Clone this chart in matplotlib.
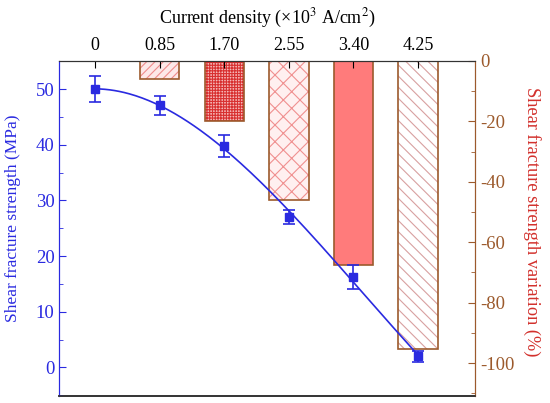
import matplotlib

matplotlib.use("Agg")

import matplotlib.pyplot as plt
import numpy as np
from matplotlib.ticker import MultipleLocator

plt.rcParams["font.family"] = ["Liberation Serif", "DejaVu Serif"]
plt.rcParams["mathtext.fontset"] = "stix"
plt.rcParams["axes.unicode_minus"] = False
plt.rcParams["hatch.linewidth"] = 0.8

# data
density = [0.0, 0.85, 1.70, 2.55, 3.40, 4.25]
density_labels = ["0", "0.85", "1.70", "2.55", "3.40", "4.25"]
strength = [50.0, 47.1, 39.8, 27.0, 16.2, 2.0]
strength_err = [2.3, 1.7, 2.0, 1.3, 2.2, 1.0]
variation = [-5.9, -20.0, -46.1, -67.4, -95.4]

BLUE = "#2a2ae0"
BROWN = "#9c5a2c"
RED = "#d2302c"

# per-bar look: (fill, hatch, hatch colour)
bar_styles = [
    ("#fde8e8", "////", "#f08c8c"),
    ("#f5b8b8", "++++++", "#d83030"),
    ("#fff0f0", "xx", "#f09090"),
    ("#ff7b7b", "", "#ff7b7b"),
    ("#ffffff", "\\\\\\", "#d8a0a0"),
]

fig = plt.figure(figsize=(5.5, 4.03), dpi=100)
ax = fig.add_axes([0.108, 0.018, 0.7556, 0.831])
ax2 = ax.twinx()

# bars for the variation (right axis); hatch drawn first, outline on top
bar_x = density[1:]
for xv, val, (fc, hatch, hc) in zip(bar_x, variation, bar_styles):
    ax2.bar(xv, val, width=0.52, color=fc, hatch=hatch, edgecolor=hc, linewidth=0)
    ax2.bar(xv, val, width=0.52, fill=False, edgecolor=BROWN, linewidth=1.2)

# strength points and a smooth fitted curve (left axis)
coef = np.polyfit(density, strength, 3)
xs = np.linspace(density[0], density[-1], 200)
ax.plot(xs, np.polyval(coef, xs), color=BLUE, lw=1.2, zorder=3)
ax.errorbar(density, strength, yerr=strength_err, fmt="s", color=BLUE, ms=6,
            capsize=4, elinewidth=1.2, capthick=1.2, zorder=4)

ax.set_zorder(ax2.get_zorder() + 1)
ax.patch.set_visible(False)

ax.set_xlim(-0.47, 5.0)
ax.set_ylim(-5.1, 55.1)
ax2.set_ylim(-110.8, 0)

# top axis carries the density ticks
ax.xaxis.tick_top()
ax.xaxis.set_label_position("top")
ax.set_xticks(density)
ax.set_xticklabels(density_labels)
ax.tick_params(axis="x", direction="in", length=5, labelsize=13, pad=5)
ax.set_xlabel("Current density (×10$^3$ A/cm$^2$)", fontsize=13, labelpad=10)

ax.yaxis.set_major_locator(MultipleLocator(10))
ax.yaxis.set_minor_locator(MultipleLocator(5))
ax.tick_params(axis="y", which="both", direction="in", colors=BLUE, labelsize=13.5)
ax.tick_params(axis="y", which="major", length=5)
ax.tick_params(axis="y", which="minor", length=3)
ax.set_ylabel("Shear fracture strength (MPa)", color=BLUE, fontsize=12.5, va="center")
ax.yaxis.set_label_coords(-0.112, 0.531)

ax2.yaxis.set_major_locator(MultipleLocator(20))
ax2.yaxis.set_minor_locator(MultipleLocator(10))
ax2.tick_params(axis="y", which="both", direction="in", colors=BROWN, labelsize=13.5)
ax2.tick_params(axis="y", which="major", length=5)
ax2.tick_params(axis="y", which="minor", length=3)
ax2.set_ylabel("Shear fracture strength variation (%)", color=RED, fontsize=13.2,
               rotation=270, va="center")
ax2.yaxis.set_label_coords(1.137, 0.519)

ax.spines["left"].set_color(BLUE)
ax2.spines["left"].set_color(BLUE)
ax2.spines["right"].set_color(BROWN)
ax.spines["right"].set_color(BROWN)
for a in (ax, ax2):
    a.spines["top"].set_color("#333333")
    a.spines["bottom"].set_color("#333333")
    a.spines["bottom"].set_linewidth(1.2)

fig.savefig("out.png", dpi=100)
